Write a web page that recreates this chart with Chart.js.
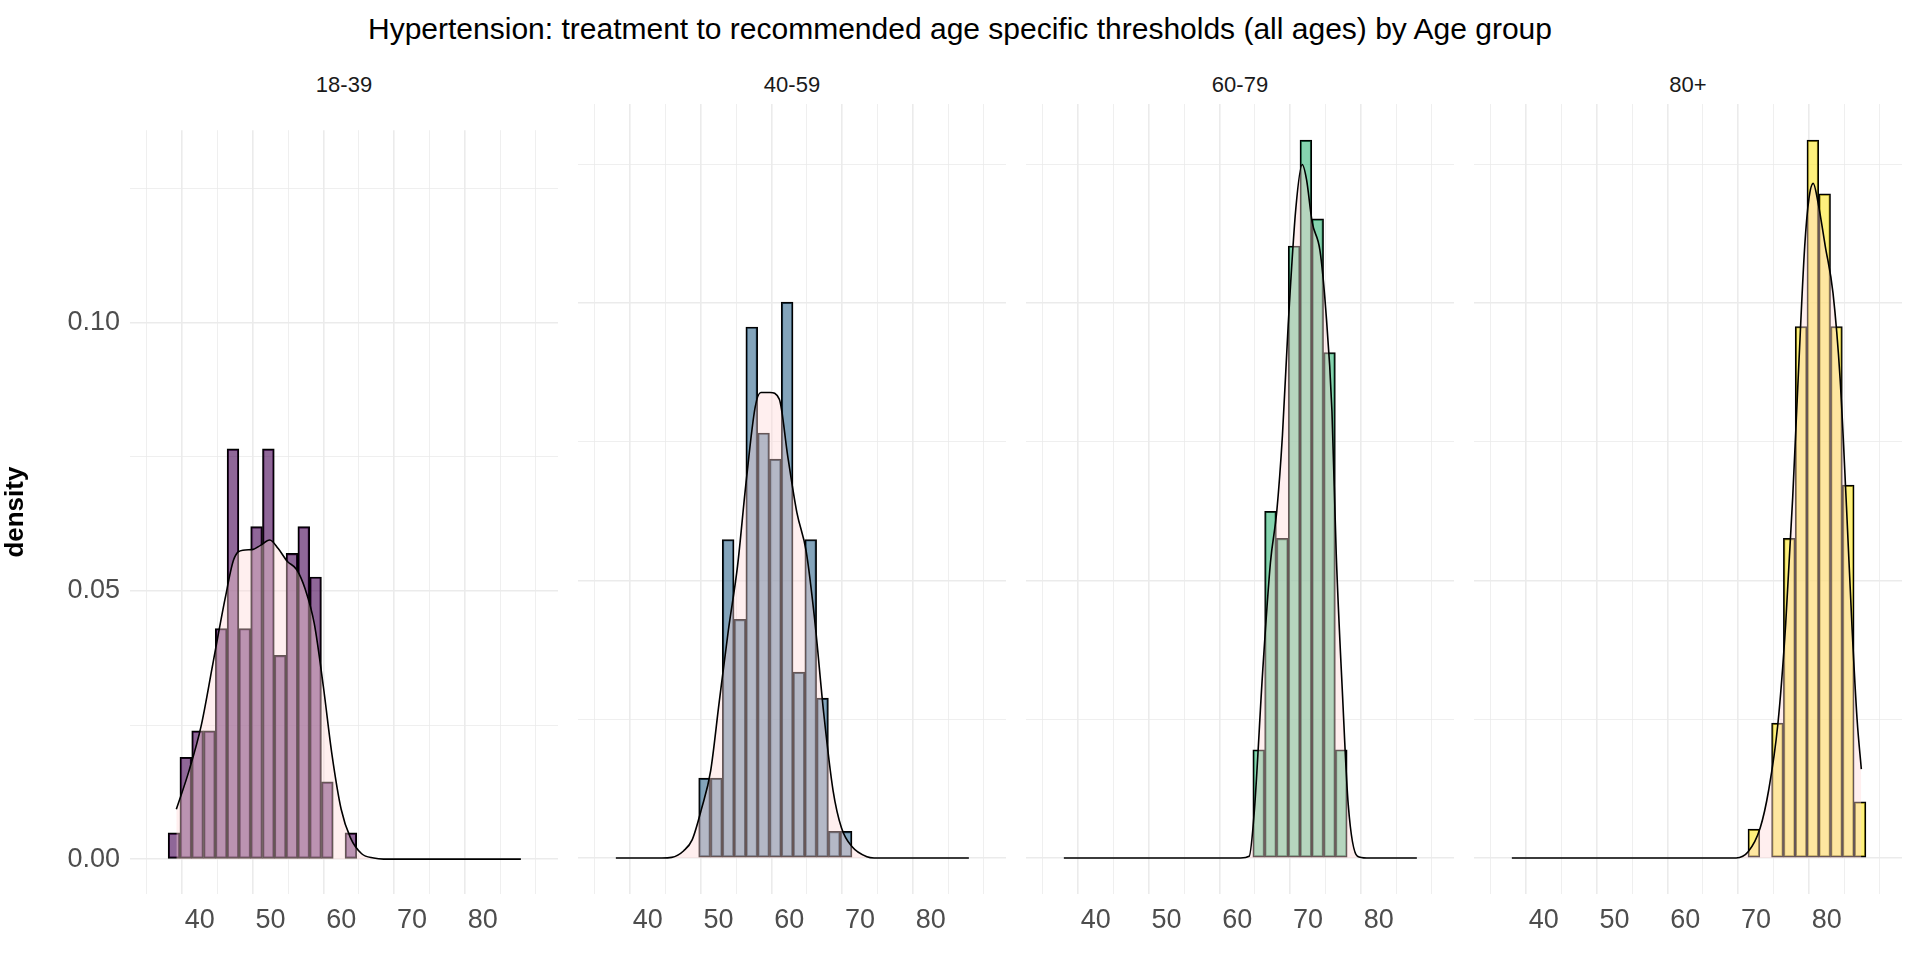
<!DOCTYPE html>
<html>
<head>
<meta charset="utf-8">
<script src="https://cdn.jsdelivr.net/npm/chart.js@4.4.1/dist/chart.umd.min.js"></script>
<style>
  body { margin: 0; background: #fff; font-family: "Liberation Sans", Arial, sans-serif; }
  #wrap { position: relative; width: 1920px; height: 960px; }
  .title { position: absolute; top: 12px; left: 0; width: 1920px; text-align: center; font-size: 30px; color: #000; }
  .strip { position: absolute; top: 72px; text-align: center; font-size: 22px; color: #1a1a1a; }
  canvas { position: absolute; }
</style>
</head>
<body>
<div id="wrap">
  <div class="title">Hypertension: treatment to recommended age specific thresholds (all ages) by Age group</div>
</div>
<script>
const groups = ['18-39', '40-59', '60-79', '80+'];
const binStart = 35.54;
const binWidth = 1.667;

// histogram densities, by bin index (0..29)
const hist1 = [0.0049, 0.019, 0.0239, 0.0239, 0.043, 0.0765, 0.043, 0.062, 0.0765, 0.038, 0.057, 0.062, 0.0526, 0.0144, 0, 0.0049,
               0, 0, 0, 0, 0, 0, 0, 0, 0, 0, 0, 0, 0, 0];
const hist2 = [0, 0, 0, 0, 0, 0, 0, 0.0144, 0.0144, 0.0574, 0.043, 0.0957, 0.0766, 0.0719, 0.1002, 0.0335, 0.0574, 0.0288, 0.0048, 0.0048,
               0, 0, 0, 0, 0, 0, 0, 0, 0, 0];
const hist3 = [0, 0, 0, 0, 0, 0, 0, 0, 0, 0, 0, 0, 0, 0, 0, 0, 0.0195, 0.0625, 0.0576, 0.1103, 0.1294, 0.1152, 0.0911, 0.0195,
               0, 0, 0, 0, 0, 0];
const hist4 = [0, 0, 0, 0, 0, 0, 0, 0, 0, 0, 0, 0, 0, 0, 0, 0, 0, 0, 0, 0, 0.0052, 0, 0.0243, 0.0576, 0.0958, 0.1294, 0.1197, 0.0958, 0.0672, 0.0101];

// density curves [x, density]
const dens1 = [[36.7,0.0093],[38.5,0.0165],[40.2,0.0248],[41.9,0.0367],[43.6,0.0486],[44.8,0.0558],[46.1,0.0576],[47.4,0.0577],
  [48.6,0.0585],[49.9,0.0595],[51.1,0.0579],[52.4,0.0555],[53.7,0.054],[54.9,0.0504],[56.2,0.0439],[57.5,0.032],[58.7,0.0195],
  [60,0.0093],[61.3,0.004],[62.9,0.001],[64.6,0.0002],[66,0],[85.4,0]];
const dens2 = [[35.5,0],[42,0],[43.4,0.0001],[45.1,0.0013],[46.3,0.0033],[47.6,0.0088],[48.9,0.0157],[50.1,0.028],[51.4,0.041],
  [52.7,0.0526],[53.9,0.0676],[55.2,0.0813],[56,0.0839],[57.3,0.0839],[58.6,0.0827],[59.8,0.0724],[61.1,0.0622],[62.4,0.0553],
  [63.6,0.043],[64.9,0.0259],[66.2,0.0122],[67.4,0.0054],[68.9,0.002],[71,0.0002],[72,0],[85.4,0]];
const dens3 = [[35.5,0],[60.5,0],[61.7,0.0003],[62.4,0.008],[63.6,0.0335],[64.7,0.0532],[65.6,0.0625],[66.4,0.0762],[67.2,0.0958],
  [68.3,0.1172],[69.2,0.125],[69.8,0.1223],[70.6,0.1146],[71.7,0.1095],[72.5,0.0992],[73.4,0.0805],[74,0.0549],[74.9,0.0292],
  [75.7,0.0096],[77,0.0003],[78.3,0],[85.4,0]];
const dens4 = [[35.5,0],[67.2,0],[68.9,0.0011],[70.6,0.0054],[71.8,0.0122],[73.1,0.0241],[74.2,0.042],[75.2,0.065],[76,0.0872],
  [76.9,0.1103],[77.5,0.1189],[78.1,0.1216],[78.8,0.118],[79.8,0.1103],[80.9,0.1018],[81.9,0.0864],[82.8,0.0634],[83.6,0.0412],
  [84.3,0.025],[84.9,0.016]];

const xTicks = [35, 40, 45, 50, 55, 60, 65, 70, 75, 80, 85];
const yTicks = [0, 0.025, 0.05, 0.075, 0.1, 0.125];

const hists = [hist1, hist2, hist3, hist4];
const dens = [dens1, dens2, dens3, dens4];
const barColors = ['rgba(68,1,84,0.6)', 'rgba(49,104,142,0.6)', 'rgba(53,183,121,0.6)', 'rgba(253,231,37,0.6)'];

const panelLeft = 130, panelW = 428, gap = 20;
const panelTop = 104, areaH = 790, xAxisH = 46, yAxisW = 130;
const wrap = document.getElementById('wrap');
const tickColor = '#4d4d4d';

groups.forEach((g, i) => {
  const first = i === 0;
  const left = panelLeft + i * (panelW + gap) - (first ? yAxisW : 0);
  const w = panelW + (first ? yAxisW : 0);

  const strip = document.createElement('div');
  strip.className = 'strip';
  strip.style.left = (panelLeft + i * (panelW + gap)) + 'px';
  strip.style.width = panelW + 'px';
  strip.textContent = g;
  wrap.appendChild(strip);

  const cv = document.createElement('canvas');
  cv.width = w;
  cv.height = areaH + xAxisH;
  cv.style.left = left + 'px';
  cv.style.top = panelTop + 'px';
  wrap.appendChild(cv);

  const bars = hists[i].map((v, k) => ({ x: binStart + binWidth * (k + 0.5), y: v }));
  const line = dens[i].map(p => ({ x: p[0], y: p[1] }));

  new Chart(cv, {
    type: 'bar',
    data: {
      datasets: [
        {
          type: 'line',
          data: line,
          borderColor: '#000',
          borderWidth: 1.6,
          backgroundColor: 'rgba(255,215,215,0.4)',
          fill: 'origin',
          pointRadius: 0,
          cubicInterpolationMode: 'monotone',
          order: 0
        },
        {
          data: bars,
          backgroundColor: barColors[i],
          borderColor: '#000',
          borderWidth: 1.5,
          borderSkipped: false,
          barPercentage: 1,
          categoryPercentage: 1,
          order: 1
        }
      ]
    },
    options: {
      responsive: false,
      animation: false,
      layout: { padding: 0 },
      plugins: { legend: { display: false }, tooltip: { enabled: false } },
      scales: {
        x: {
          type: 'linear',
          min: 32.9,
          max: 87.9,
          afterBuildTicks: s => { s.ticks = xTicks.map(v => ({ value: v })); },
          afterFit: s => { s.height = xAxisH; },
          border: { display: false },
          grid: {
            color: '#ebebeb',
            lineWidth: c => (c.tick && c.tick.value % 10 === 0) ? 1.6 : 0.8,
            drawTicks: false
          },
          ticks: {
            autoSkip: false,
            maxRotation: 0,
            padding: 10,
            color: tickColor,
            font: { size: 27, family: 'Liberation Sans' },
            callback: v => v % 10 === 0 ? String(v) : ''
          }
        },
        y: {
          min: -0.0065,
          max: 0.1359,
          afterBuildTicks: s => { s.ticks = yTicks.map(v => ({ value: v })); },
          afterFit: s => { s.width = first ? yAxisW : 0; },
          border: { display: false },
          grid: {
            color: '#ebebeb',
            lineWidth: c => (c.tick && Math.round(c.tick.value * 1000) % 50 === 0) ? 1.6 : 0.8,
            drawTicks: false
          },
          title: {
            display: first,
            text: 'density',
            color: '#000',
            font: { size: 26, weight: 'bold', family: 'Liberation Sans' },
            padding: { top: 0, bottom: 14 }
          },
          ticks: {
            display: first,
            autoSkip: false,
            padding: 10,
            color: tickColor,
            font: { size: 27, family: 'Liberation Sans' },
            callback: v => Math.round(v * 1000) % 50 === 0 ? v.toFixed(2) : ''
          }
        }
      }
    }
  });
});
</script>
</body>
</html>
